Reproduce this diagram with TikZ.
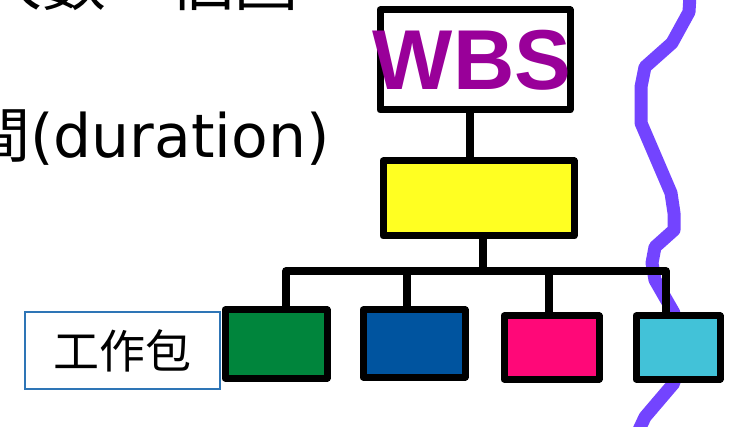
\documentclass[tikz,border=0pt]{standalone}
\usepackage{fontspec}
\newfontfamily\cjk{Noto Sans CJK TC}
\newfontfamily\dv{DejaVu Sans}
\newfontfamily\lsans{Liberation Sans}
\definecolor{wbspurple}{RGB}{153,0,153}
\definecolor{yelfill}{RGB}{255,255,34}
\definecolor{grnfill}{RGB}{0,133,60}
\definecolor{bluefill}{RGB}{0,84,159}
\definecolor{pinkfill}{RGB}{255,8,120}
\definecolor{cyanfill}{RGB}{66,194,216}
\definecolor{wavecol}{RGB}{115,68,255}
\definecolor{labelblue}{RGB}{46,117,182}
\begin{document}
\begin{tikzpicture}[x=1pt,y=-1pt,
  sketchbox/.style={draw=black, line width=7pt, line join=round, inner sep=0pt},
  conn/.style={draw=black, line width=7.5pt, line join=round},
  wave/.style={draw=wavecol, line width=13pt, line join=round},
  labelbox/.style={draw=labelblue, line width=1.5pt, inner sep=0pt, fill=white}]
\useasboundingbox (0,0) rectangle (733,427);
\clip (0,0) rectangle (733,427);
% top text (cut off)
\node[anchor=base west, inner sep=0pt, font=\cjk\fontsize{64pt}{64pt}\selectfont] (topline) at (-22,6) {人數　個圖};
\node[anchor=base west, inner sep=0pt, font=\fontsize{60pt}{60pt}\selectfont] (durline) at (-30,158) {{\cjk 間}{\dv(duration)}};
% wavy line
\draw[wave] (690,-5) -- (689,12) -- (672,43) -- (645,67) -- (641,87) -- (641,123) -- (671,193) -- (674,213) -- (674,230) -- (655,247) -- (652,263) -- (655,280) -- (674,313) -- (674,383) -- (645,417) -- (638,432);
% boxes
\coordinate (bus) at (483,271);
\node[sketchbox, fill=white, minimum width=190pt, minimum height=100pt] (wbs) at (475,60) {};
\node[sketchbox, fill=yelfill, minimum width=191pt, minimum height=75pt] (yel) at (478.5,198.5) {};
\node[sketchbox, fill=grnfill, minimum width=102pt, minimum height=68pt] (green) at (276,344) {};
\node[sketchbox, fill=bluefill, minimum width=102pt, minimum height=67pt] (blue) at (414,343.5) {};
\node[sketchbox, fill=pinkfill, minimum width=95pt, minimum height=63pt] (pink) at (551.5,347.5) {};
\node[sketchbox, fill=cyanfill, minimum width=84pt, minimum height=63pt] (cyan) at (678,347.5) {};
% connectors
\draw[conn] ([xshift=-5pt]wbs.south) -- ([xshift=-5pt]wbs.south |- yel.north);
\draw[conn] ([xshift=4.5pt]yel.south) -- (bus);
\draw[conn] ([xshift=10pt]green.north) |- (bus) -| ([xshift=-12pt]cyan.north);
\draw[conn] ([xshift=-7pt]blue.north) -- ([xshift=-7pt]blue.north |- bus);
\draw[conn] ([xshift=-2.5pt]pink.north) -- ([xshift=-2.5pt]pink.north |- bus);
\node[inner sep=0pt, text=wbspurple, font=\lsans\bfseries\fontsize{85pt}{85pt}\selectfont] (wbstext) at (472,60) {WBS};
\node[labelbox, minimum width=195pt, minimum height=77pt, font=\cjk\fontsize{46pt}{46pt}\selectfont] (wp) at (122.5,350.5) {工作包};
\end{tikzpicture}
\end{document}
